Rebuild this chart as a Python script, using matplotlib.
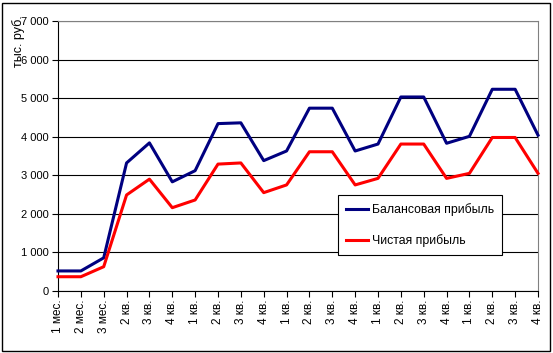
import matplotlib as mpl
import matplotlib.pyplot as plt
from matplotlib.patches import Rectangle
from matplotlib.ticker import FuncFormatter, MultipleLocator

mpl.rcParams.update({"font.family": ["Liberation Sans", "DejaVu Sans"], "font.size": 7.5})

# periods along x axis
periods = ["1 мес.", "2 мес.", "3 мес.", "2 кв.", "3 кв.", "4 кв.",
           "1 кв.", "2 кв.", "3 кв.", "4 кв.",
           "1 кв.", "2 кв.", "3 кв.", "4 кв.",
           "1 кв.", "2 кв.", "3 кв.", "4 кв.",
           "1 кв.", "2 кв.", "3 кв.", "4 кв."]
# тыс. руб.
balance = [520, 520, 860, 3320, 3840, 2830, 3120, 4340, 4360, 3380,
           3630, 4740, 4740, 3630, 3810, 5030, 5030, 3830, 4010, 5230, 5230, 4040]
net = [370, 370, 630, 2490, 2900, 2160, 2360, 3290, 3320, 2550,
       2750, 3610, 3610, 2750, 2920, 3810, 3810, 2920, 3050, 3980, 3980, 3050]

W, H = 553, 353
fig = plt.figure(figsize=(W / 100, H / 100), dpi=100)
ax = fig.add_axes([58 / W, 1 - 291 / H, 480 / W, 270 / H])

x = range(len(periods))
ax.plot(x, balance, color="#000080", lw=2.2, clip_on=False, zorder=3, label="Балансовая прибыль")
ax.plot(x, net, color="#ff0000", lw=2.2, clip_on=False, zorder=3, label="Чистая прибыль")

ax.set_xlim(0, len(periods) - 1)
ax.set_ylim(0, 7000)
ax.yaxis.set_major_locator(MultipleLocator(1000))
ax.yaxis.set_major_formatter(FuncFormatter(lambda v, p: f"{int(v):,}".replace(",", " ")))
ax.set_xticks(list(x))
ax.set_xticklabels(periods, rotation=90)
ax.tick_params(axis="both", direction="out", length=4, width=0.8, color="black", labelsize=8)
ax.tick_params(axis="x", pad=2, labelsize=8.5)
ax.tick_params(axis="y", pad=3)
ax.grid(axis="y", color="black", lw=0.8)
ax.set_axisbelow(True)
for s in ["left", "bottom"]:
    ax.spines[s].set_color("black"); ax.spines[s].set_linewidth(0.8)
for s in ["top", "right"]:
    ax.spines[s].set_color("#808080"); ax.spines[s].set_linewidth(0.8)

fig.text(19 / W, 1 - 41 / H, "тыс. руб.", rotation=90, ha="center", va="center", fontsize=9)

leg = ax.legend(loc="upper left", bbox_to_anchor=(338 / W, 1 - 195 / H),
                bbox_transform=fig.transFigure, frameon=True, fancybox=False,
                edgecolor="black", framealpha=1, fontsize=8.8, labelspacing=1.5,
                handlelength=1.8, handletextpad=0.35, borderpad=0.65, borderaxespad=0)
leg.get_frame().set_linewidth(0.8)

fig.patches.append(Rectangle((2 / W, 2 / H), (W - 5) / W, (H - 5) / H, transform=fig.transFigure,
                             fill=False, edgecolor="black", lw=1))

fig.savefig("out.png", dpi=100, facecolor="white")
